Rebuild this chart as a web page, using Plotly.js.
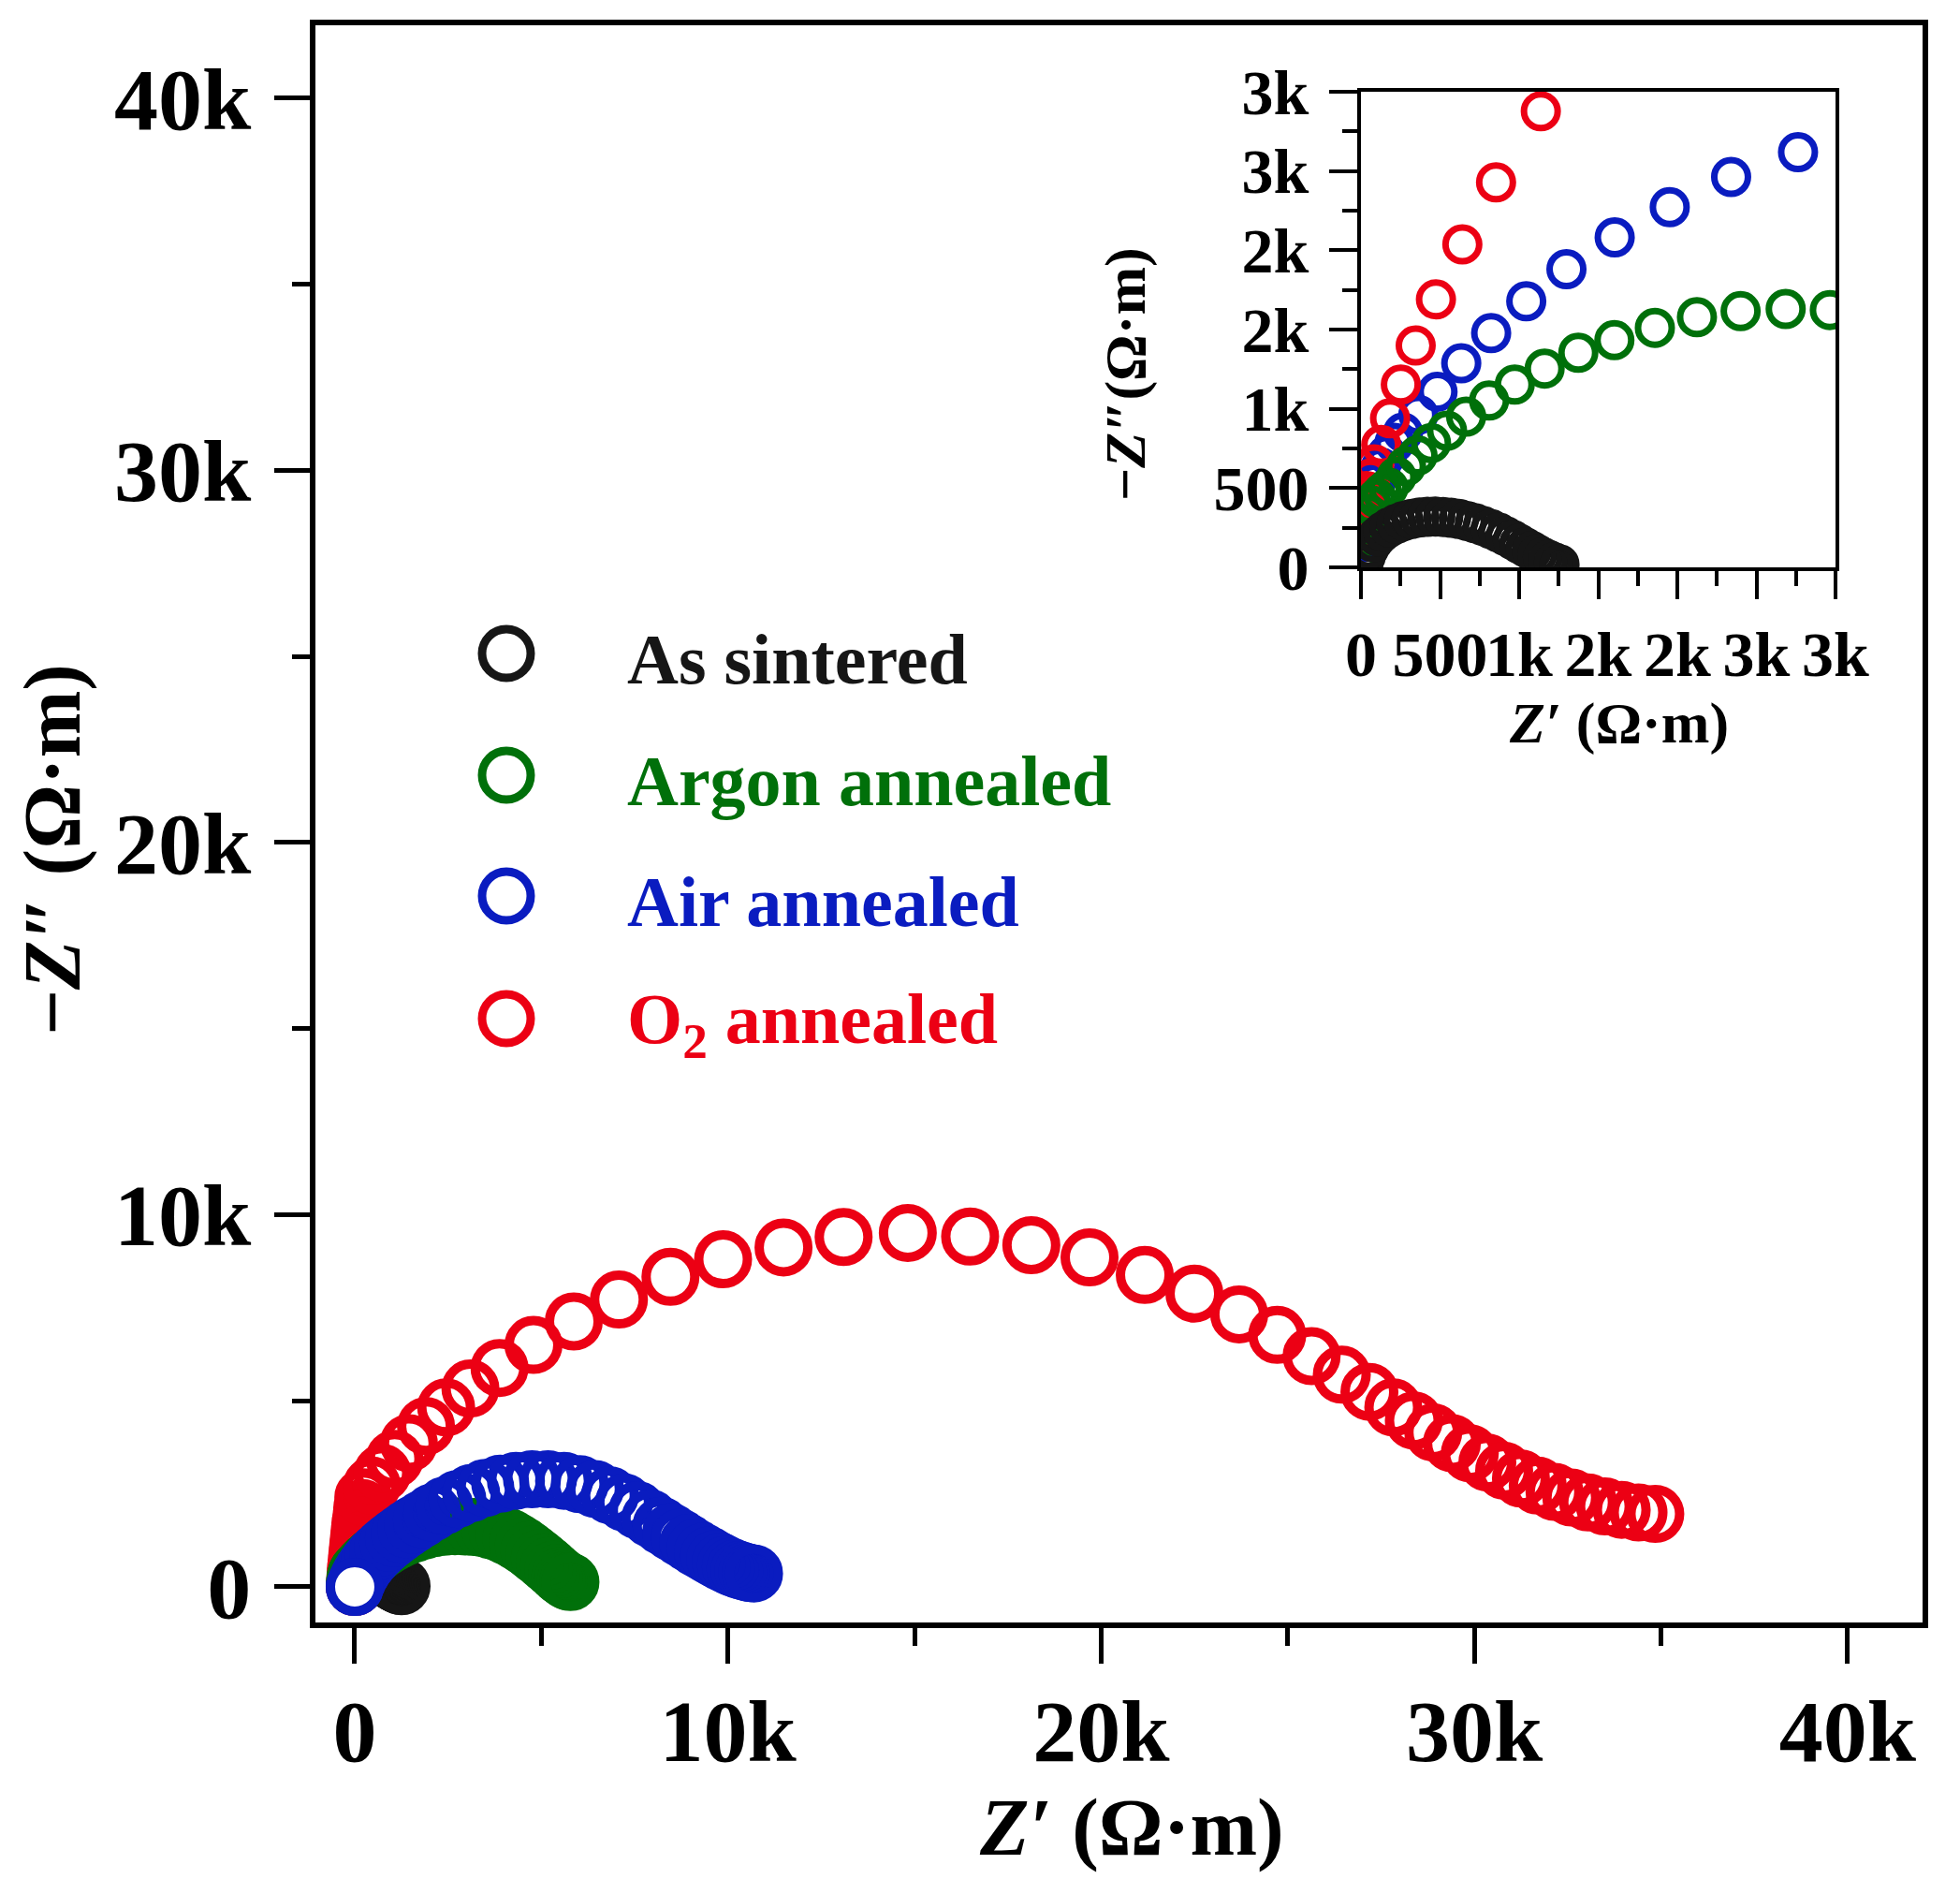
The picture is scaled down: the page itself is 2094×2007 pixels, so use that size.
<!DOCTYPE html>
<html>
<head>
<meta charset="utf-8">
<script src="https://cdn.plot.ly/plotly-3.0.1.min.js"></script>
<style>
html,body{margin:0;padding:0;background:#ffffff;}
#chart{width:2094px;height:2007px;}
</style>
</head>
<body>
<div id="chart"></div>
<script>
// ---------------- data (Ω·m) ----------------
// Main plot: O2 annealed
const o2X = [0, 10, 20, 30, 50, 70, 90, 110, 130, 150, 180, 200, 230, 460, 740, 1070, 1450, 1910, 2450, 3100, 3880, 4790, 5870, 7080, 8460, 9870, 11490, 13100, 14820, 16490, 18130, 19690, 21170, 22500, 23700, 24720, 25640, 26450, 27190, 27830, 28380, 28900, 29400, 29880, 30350, 30800, 31250, 31700, 32150, 32600, 33050, 33500, 33950, 34400, 34850];
const o2Y = [0, 150, 320, 500, 700, 900, 1100, 1300, 1500, 1700, 1900, 2120, 2410, 2720, 3060, 3440, 3860, 4320, 4820, 5330, 5880, 6500, 7130, 7720, 8330, 8800, 9120, 9400, 9510, 9410, 9180, 8850, 8380, 7880, 7320, 6770, 6200, 5700, 5240, 4820, 4470, 4150, 3860, 3590, 3340, 3120, 2910, 2720, 2550, 2400, 2270, 2160, 2070, 2000, 1960];

// Main plot: Air annealed
const airX = [0, 60, 130, 210, 300, 400, 510, 630, 760, 900, 1050, 1210, 1380, 1560, 1800, 2080, 2400, 2750, 3120, 3500, 3900, 4320, 4750, 5180, 5610, 6030, 6440, 6840, 7220, 7580, 7920, 8220, 8480, 8720, 8940, 9140, 9330, 9500, 9660, 9810, 9950, 10080, 10200, 10310, 10420, 10520, 10610, 10700];
const airY = [0, 150, 300, 440, 570, 700, 830, 950, 1070, 1190, 1310, 1430, 1550, 1670, 1820, 2000, 2180, 2360, 2520, 2660, 2770, 2850, 2890, 2890, 2850, 2760, 2630, 2460, 2270, 2060, 1840, 1640, 1470, 1320, 1180, 1050, 940, 840, 750, 670, 600, 540, 490, 450, 420, 390, 370, 360];

// Argon annealed (main + inset)
const argonX = [5, 12, 25, 45, 70, 100, 135, 174, 225, 285, 358, 443, 544, 665, 810, 972, 1161, 1374, 1602, 1858, 2124, 2400, 2685, 2964, 3200, 3420, 3630, 3830, 4020, 4200, 4370, 4530, 4680, 4820, 4960, 5090, 5210, 5320, 5420, 5510, 5590, 5660, 5720, 5780];
const argonY = [100, 190, 270, 335, 390, 435, 470, 504, 571, 638, 705, 784, 862, 951, 1052, 1153, 1254, 1354, 1433, 1511, 1578, 1616, 1630, 1623, 1610, 1580, 1530, 1470, 1390, 1300, 1200, 1100, 990, 880, 770, 660, 560, 460, 370, 290, 230, 180, 150, 130];

// As sintered (main + inset)
const sinteredX = [15, 30, 50, 75, 105, 140, 180, 225, 270, 320, 370, 420, 470, 520, 570, 620, 670, 720, 770, 820, 870, 915, 960, 1000, 1040, 1080, 1115, 1150, 1185, 1220, 1255];
const sinteredY = [20, 70, 117, 158, 195, 226, 252, 274, 292, 305, 314, 319, 320, 318, 313, 305, 293, 279, 262, 242, 220, 197, 173, 149, 126, 103, 82, 63, 47, 32, 19];

// Inset: O2 annealed and Air annealed
const insetO2X = [0, 3, 7, 12, 18, 26, 36, 60, 85, 128, 184, 252, 346, 474, 641, 854, 1137];
const insetO2Y = [200, 260, 315, 370, 420, 455, 481, 560, 649, 772, 940, 1153, 1399, 1690, 2037, 2429, 2877];
const insetAirX = [0, 15, 35, 60, 90, 125, 165, 212, 266, 363, 484, 634, 823, 1045, 1299, 1604, 1952, 2340, 2763];
const insetAirY = [0, 160, 300, 420, 530, 630, 710, 785, 851, 963, 1108, 1287, 1478, 1679, 1881, 2082, 2272, 2463, 2619];

// Tick labels
const mainTickVals = [0, 10000, 20000, 30000, 40000];
const mainTickText = ['0', '10k', '20k', '30k', '40k'];
const mainMinorVals = [5000, 15000, 25000, 35000];
const insetTickVals = [0, 500, 1000, 1500, 2000, 2500, 3000];
const insetTickText = ['0', '500', '1k', '2k', '2k', '3k', '3k'];
const insetMinorVals = [250, 750, 1250, 1750, 2250, 2750];

// Titles and legend
const xTitle = '<i>Z′</i> (Ω·m)';
const yTitle = '−<i>Z″</i> (Ω·m)';
const insetYTitle = '−<i>Z″</i>(Ω·m)';
const seriesNames = ['As sintered', 'Argon annealed', 'Air annealed', 'O<sub>2</sub> annealed'];

// ---------------- style ----------------
const FONT = '"Liberation Serif", "Times New Roman", Times, serif';
const C_BLACK = '#161616', C_GREEN = '#00700a', C_BLUE = '#0a1cc0', C_RED = '#ec0014';
const legendColors = [C_BLACK, C_GREEN, C_BLUE, C_RED];

function ring(color, size, lw, fill) {
  return {symbol: 'circle', size: size, color: fill || 'rgba(0,0,0,0)', line: {color: color, width: lw}};
}
const MS = 52, MLW = 10;   // main markers
const IS = 36, ILW = 7;    // inset markers

const traces = [
  {x: o2X, y: o2Y, name: 'O2 annealed', mode: 'markers', xaxis: 'x', yaxis: 'y', marker: ring(C_RED, MS, MLW)},
  {x: sinteredX, y: sinteredY, name: 'As sintered', mode: 'markers', xaxis: 'x', yaxis: 'y', marker: ring(C_BLACK, MS, MLW)},
  {x: argonX, y: argonY, name: 'Argon annealed', mode: 'markers', xaxis: 'x', yaxis: 'y', marker: ring(C_GREEN, MS, MLW)},
  {x: airX, y: airY, name: 'Air annealed', mode: 'markers', xaxis: 'x', yaxis: 'y', marker: ring(C_BLUE, MS, MLW)},
  {x: airX.slice(0, 1), y: airY.slice(0, 1), name: 'Air annealed (first point)', mode: 'markers', xaxis: 'x', yaxis: 'y', marker: ring(C_BLUE, MS, MLW, '#ffffff')},
  // inset
  {x: insetAirX, y: insetAirY, name: 'Air annealed', mode: 'markers', xaxis: 'x2', yaxis: 'y2', marker: ring(C_BLUE, IS, ILW)},
  {x: insetO2X, y: insetO2Y, name: 'O2 annealed', mode: 'markers', xaxis: 'x2', yaxis: 'y2', marker: ring(C_RED, IS, ILW)},
  {x: argonX, y: argonY, name: 'Argon annealed', mode: 'markers', xaxis: 'x2', yaxis: 'y2', marker: ring(C_GREEN, IS, ILW)},
  {x: sinteredX, y: sinteredY, name: 'As sintered', mode: 'markers', xaxis: 'x2', yaxis: 'y2', marker: ring(C_BLACK, IS, ILW)}
].map(t => Object.assign({showlegend: false, hoverinfo: 'skip', cliponaxis: true}, t));

const W = 2094, H = 2007;
const ML = 337, MR = 40, MT = 27, MB = 274;
const PW = W - ML - MR, PH = H - MT - MB;
const px2paperX = p => (p - ML) / PW;
const px2paperY = p => (H - MB - p) / PH;

function axisCommon(size, lw, tl, tw, mtl, standoff) {
  return {
    showline: true, linecolor: '#000', linewidth: lw, mirror: true,
    ticks: 'outside', ticklen: tl, tickwidth: tw, tickcolor: '#000',
    ticklabelstandoff: standoff, tickangle: 0,
    showgrid: false, zeroline: false, fixedrange: true,
    tickfont: {family: FONT, size: size, color: '#000', weight: 'bold'},
    minor: {ticks: 'outside', ticklen: mtl, tickwidth: tw, tickcolor: '#000', showgrid: false}
  };
}

const xMain = Object.assign(axisCommon(94, 6, 38, 5, 19, -9), {
  domain: [0, 1], range: [-1053, 42012], anchor: 'y',
  tickmode: 'array', tickvals: mainTickVals, ticktext: mainTickText
});
xMain.minor.tickmode = 'array'; xMain.minor.tickvals = mainMinorVals;
const yMain = Object.assign(axisCommon(94, 6, 38, 5, 19, 6), {
  domain: [0, 1], range: [-956, 41952], anchor: 'x',
  tickmode: 'array', tickvals: mainTickVals, ticktext: mainTickText
});
yMain.minor.tickmode = 'array'; yMain.minor.tickvals = mainMinorVals;

const xIn = Object.assign(axisCommon(68, 4, 30, 4, 16, 0), {
  domain: [px2paperX(1454), px2paperX(1961)], range: [0, 3000], anchor: 'y2',
  tickmode: 'array', tickvals: insetTickVals, ticktext: insetTickText
});
xIn.minor.tickmode = 'array'; xIn.minor.tickvals = insetMinorVals;
const yIn = Object.assign(axisCommon(68, 4, 30, 4, 16, 8), {
  domain: [px2paperY(606), px2paperY(98)], range: [0, 3000], anchor: 'x2',
  tickmode: 'array', tickvals: insetTickVals, ticktext: insetTickText
});
yIn.minor.tickmode = 'array'; yIn.minor.tickvals = insetMinorVals;

const shapes = [], annotations = [];
function titleAnn(text, cx, cy, size, angle) {
  annotations.push({xref: 'paper', yref: 'paper', x: px2paperX(cx), y: px2paperY(cy),
    xanchor: 'center', yanchor: 'middle', showarrow: false, text: text, textangle: angle,
    font: {family: FONT, size: size, color: '#000', weight: 'bold'}});
}
// axis titles
titleAnn(xTitle, 1209, 1952, 86, 0);
titleAnn(yTitle, 56, 908, 86, -90);
titleAnn(xTitle, 1729, 772, 62, 0);
titleAnn(insetYTitle, 1202, 400, 62, -90);

// custom legend (large symbols)
const legendRowsPx = [698, 828, 957, 1088];
legendRowsPx.forEach((py, i) => {
  shapes.push({type: 'circle', xref: 'paper', yref: 'paper', xsizemode: 'pixel', ysizemode: 'pixel',
    xanchor: px2paperX(541), yanchor: px2paperY(py), x0: -26, x1: 26, y0: -26, y1: 26,
    line: {color: legendColors[i], width: 9}, fillcolor: 'rgba(0,0,0,0)'});
  annotations.push({xref: 'paper', yref: 'paper', x: px2paperX(668), y: px2paperY(py), xanchor: 'left', yanchor: 'middle',
    yshift: -6, showarrow: false, text: seriesNames[i],
    font: {family: FONT, size: 76, color: legendColors[i], weight: 'bold'}});
});

const layout = {
  width: W, height: H,
  margin: {l: ML, r: MR, t: MT, b: MB, pad: 0},
  paper_bgcolor: '#ffffff', plot_bgcolor: '#ffffff',
  showlegend: false,
  xaxis: xMain, yaxis: yMain, xaxis2: xIn, yaxis2: yIn,
  shapes: shapes, annotations: annotations,
  font: {family: FONT, color: '#000'}
};

Plotly.newPlot('chart', traces, layout, {displayModeBar: false, staticPlot: true});
</script>
</body>
</html>
